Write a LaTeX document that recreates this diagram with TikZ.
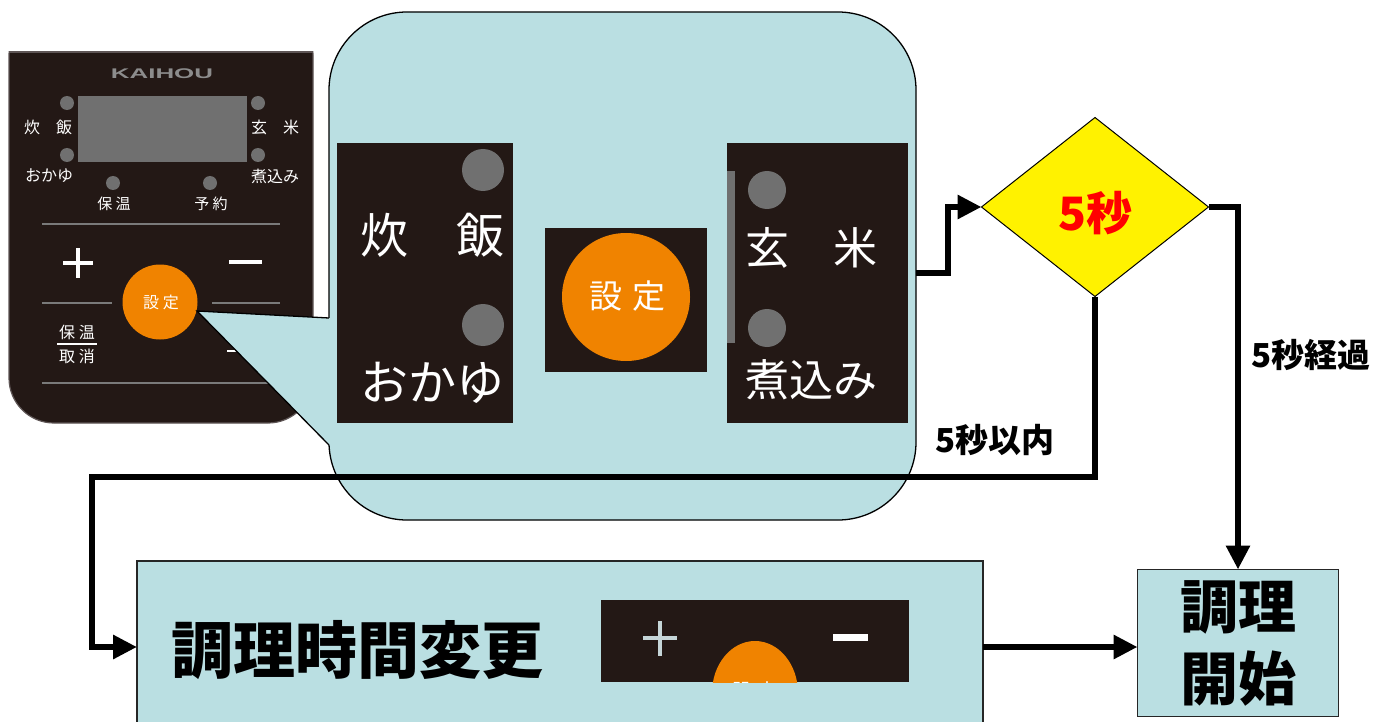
\documentclass[tikz,border=0pt]{standalone}
\usepackage{fontspec}
\setmainfont{Liberation Sans}
\newfontfamily\jp{Noto Sans CJK JP}
\usetikzlibrary{arrows.meta,shapes.geometric}
\definecolor{panel}{HTML}{231815}
\definecolor{aqua}{HTML}{BADFE2}
\definecolor{ledgray}{HTML}{707070}
\definecolor{btn}{HTML}{F08300}
\definecolor{rim}{HTML}{5E5555}
\definecolor{rule}{HTML}{7A7A7A}
\definecolor{brandgray}{HTML}{8C8C8C}
\definecolor{pluslight}{HTML}{C5D5D8}

\begin{document}
\begin{tikzpicture}[x=1pt,y=-1pt,
  flowarrow/.style={line width=6.5pt,-{Triangle[length=24pt,width=23pt]}},
  wtext/.style={text=white,inner sep=0,font=\jp\fontsize{#1}{#1}\selectfont},
  btext/.style={text=black,inner sep=0,font=\jp\bfseries\fontsize{#1}{#1}\selectfont},
  box/.style={draw=black!85,line width=1.3pt,fill=aqua,inner sep=0,outer sep=0},
  led/.style={fill=ledgray},
  ruleline/.style={draw=rule,line width=2pt}]

\useasboundingbox (0,0) rectangle (1376,722);
\fill[white] (0,0) rectangle (1376,722);

% ---------- control panel ----------
\begin{scope}
  \clip (0,52) rectangle (330,430);
  \path[fill=panel,draw=rim,line width=1.2pt,rounded corners=45] (9,10) rectangle (313,423);
\end{scope}
\draw[rim,line width=1.2pt] (9,52) -- (313,52);
\node[inner sep=0,text=brandgray,font=\bfseries\fontsize{14}{14}\selectfont] (brand) at (162,74) {\scalebox{1.85}[1]{KAIHOU}};
\fill[ledgray] (78,96) rectangle (247,162);
\fill[led] (67,103) circle (7) (67,155) circle (7) (258,103) circle (7) (258,155) circle (7)
           (113,183) circle (7) (210,183) circle (7);
\node[wtext=16] (p1) at (48,127) {炊　飯};
\node[wtext=16] (p2) at (49,176) {おかゆ};
\node[wtext=16] (p3) at (275,127) {玄　米};
\node[wtext=16] (p4) at (275,176) {煮込み};
\node[wtext=15] (p5) at (114,204) {保 温};
\node[wtext=15] (p6) at (211,204) {予 約};
\path[ruleline] (42,224) -- (280,224);
\draw[white,line width=4pt] (63,263) -- (93,263) (78,248) -- (78,278);
\draw[white,line width=4pt] (229,262) -- (262,262);
\path[ruleline] (42,303) -- (112,303) (212,303) -- (280,303);
\fill[btn] (160,302) circle (37.5);
\node[wtext=16] (p7) at (161,302) {設 定};
\node[wtext=16] (p8) at (77,332) {保 温};
\draw[white,line width=2pt] (57,344) -- (97,344);
\node[wtext=16] (p9) at (77,356) {取 消};
\draw[white,line width=2.5pt] (227,351) -- (240,351);
\path[ruleline] (42,383) -- (285,383);

% ---------- callout ----------
\path[fill=aqua,draw=black,line width=1.3pt,rounded corners=78] (329,12) rectangle (916,520);
\fill[aqua] (197,311) -- (329,318) -- (334,318) -- (334,445) -- (329,445) -- cycle;
\draw[line width=1.3pt,line join=miter] (329,318) -- (197,311) -- (329,445);

% left panel
\fill[panel] (337,143) rectangle (513,423);
\fill[led] (483,170) circle (21) (483,325) circle (21);
\node[wtext=48] (c1) at (432,235) {炊　飯};
\node[wtext=48] (c2) at (432,383) {おかゆ};
% centre button
\fill[panel] (545,228) rectangle (707,372);
\fill[btn] (626,297) circle (64);
\node[wtext=33] (c3) at (627,296) {設\hspace{10pt}定};
% right panel
\fill[panel] (727,143) rectangle (908,423);
\fill[ledgray] (727,171) rectangle (735,343);
\fill[led] (767,190) circle (19) (767,328) circle (19);
\node[wtext=44] (c4) at (811,248) {玄　米};
\node[wtext=44] (c5) at (811,380) {煮込み};

% ---------- decision ----------
\node[diamond,fill=yellow,draw=black,line width=1pt,inner sep=0,outer sep=0,
      minimum width=227,minimum height=179,aspect=1.27] (wait) at (1095,207) {};
\node[inner sep=0,text=red,font=\jp\bfseries\fontsize{46}{46}\selectfont] (waitlabel) at (1095,213) {5秒};

% ---------- result boxes ----------
\node[box,minimum width=846,minimum height=172] (bigbox) at (560,647) {};
\node[btext=62] (changelabel) at (357,650) {調理時間変更};
\fill[panel] (601,600) rectangle (909,682);
\begin{scope}
  \clip (601,600) rectangle (909,682);
  \fill[btn] (755,693) ellipse [x radius=43,y radius=52];
  \node[wtext=20] (minisettei) at (755,691) {設 定};
\end{scope}
\draw[pluslight,line width=3.5pt] (643,638) -- (677,638) (660,621) -- (660,656);
\fill[white] (833,634) rectangle (868,641);

\node[box,minimum width=201,minimum height=147,align=center,
      font=\jp\bfseries\fontsize{58}{72}\selectfont] (start) at (1238,643) {調理\\開始};

% ---------- connectors ----------
\coordinate (calloutout) at (916,273);
\coordinate (loopcorner) at (92,477);
\draw[flowarrow] (calloutout) -- ++(32,0) |- (wait.west);
\draw[flowarrow] (wait.east) -| (start.north);
\draw[flowarrow] (wait.south) |- (loopcorner) |- (bigbox.west);
\draw[flowarrow] (bigbox.east) -- (bigbox.east -| start.west);

\node[btext=33] (within) at (995,440) {5秒以内};
\node[btext=33] (elapsed) at (1311,355) {5秒経過};
\end{tikzpicture}
\end{document}
